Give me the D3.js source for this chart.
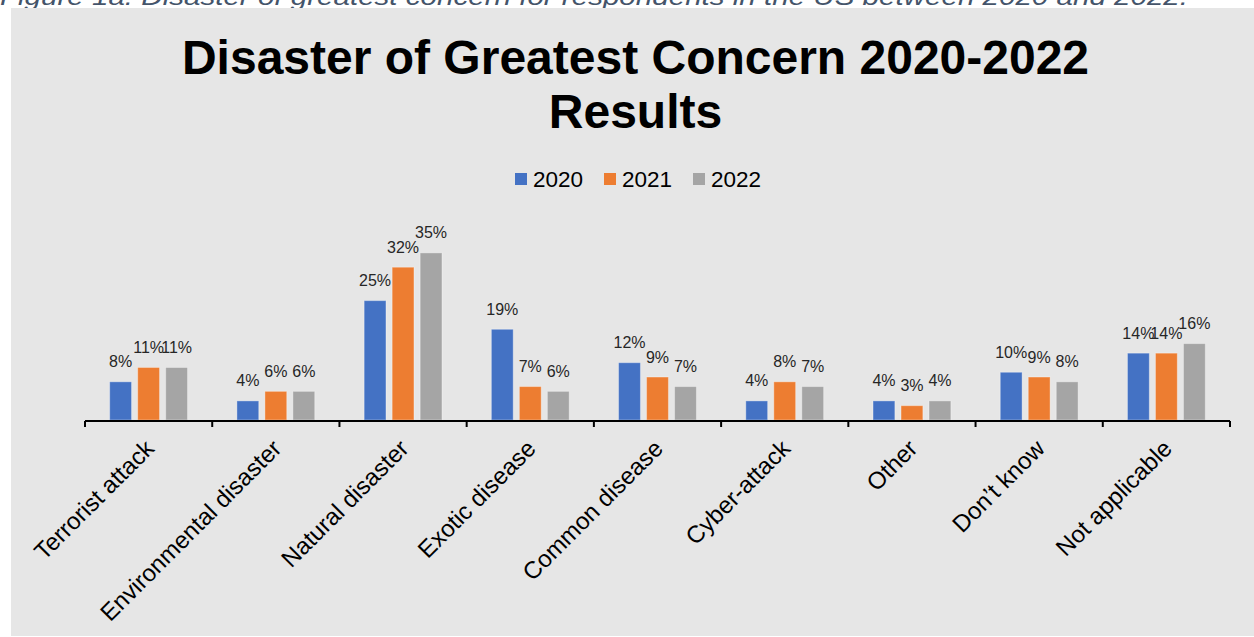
<!DOCTYPE html>
<html>
<head>
<meta charset="utf-8">
<script src="https://cdn.jsdelivr.net/npm/d3@7"></script>
<style>
  html, body { margin: 0; padding: 0; background: #ffffff; }
  svg { display: block; }
  text { font-family: "Liberation Sans", Arial, sans-serif; }
</style>
</head>
<body>
<svg id="chart" width="1254" height="637"></svg>
<script>
// Survey results: share of respondents naming each disaster as their greatest concern
const categories = ["Terrorist attack", "Environmental disaster", "Natural disaster", "Exotic disease",
  "Common disease", "Cyber-attack", "Other", "Don\u2019t know", "Not applicable"];
const years = ["2020", "2021", "2022"];
const values2020 = [8, 4, 25, 19, 12, 4, 4, 10, 14];
const values2021 = [11, 6, 32, 7, 9, 8, 3, 9, 14];
const values2022 = [11, 6, 35, 6, 7, 7, 4, 8, 16];
const seriesValues = [values2020, values2021, values2022];
const colors = ["#4472C4", "#ED7D31", "#A5A5A5"];

const titleLines = ["Disaster of Greatest Concern 2020-2022", "Results"];
const caption = "Figure 1a: Disaster of greatest concern for respondents in the US between 2020 and 2022.";

const svg = d3.select("#chart");
const W = 1254, H = 637;

// caption line above the chart panel
svg.append("text")
  .attr("x", 0).attr("y", 4.5)
  .attr("font-size", 24).attr("font-style", "italic")
  .attr("fill", "#44546A")
  .attr("textLength", 1188).attr("lengthAdjust", "spacingAndGlyphs")
  .text(caption);

// chart panel
svg.append("rect").attr("x", 11).attr("y", 8).attr("width", W - 11).attr("height", H - 9)
  .attr("fill", "#e6e6e6");

// title
svg.append("g").selectAll("text").data(titleLines).join("text")
  .attr("x", 635.5).attr("y", (d, i) => 74 + i * 54)
  .attr("text-anchor", "middle")
  .attr("font-size", 48).attr("font-weight", "bold").attr("fill", "#000")
  .text(d => d);

// legend
const legend = svg.append("g").selectAll("g").data(years).join("g")
  .attr("transform", (d, i) => `translate(${515 + i * 89},173)`);
legend.append("rect").attr("width", 12).attr("height", 12).attr("fill", (d, i) => colors[i]);
legend.append("text").attr("x", 18).attr("y", 14).attr("font-size", 22.5).attr("fill", "#000").text(d => d);

// scales
const x0 = d3.scaleBand().domain(categories).range([85, 1230]).paddingInner(0).paddingOuter(0);
const x1 = d3.scaleBand().domain(years).range([0, 84]).paddingInner(0.22).paddingOuter(0.11);
const y = d3.scaleLinear().domain([0, 40]).range([420, 229]);

const groupOffset = (x0.bandwidth() - 84) / 2;

const groups = svg.append("g").selectAll("g").data(categories).join("g")
  .attr("transform", d => `translate(${x0(d) + groupOffset},0)`);

const cells = groups.selectAll("g").data((d, ci) => years.map((yr, si) => ({ yr, si, v: seriesValues[si][ci] })))
  .join("g");

cells.append("rect")
  .attr("x", d => x1(d.yr))
  .attr("width", x1.bandwidth())
  .attr("y", d => y(d.v))
  .attr("height", d => y(0) - y(d.v))
  .attr("fill", d => colors[d.si])
  .attr("stroke", "rgba(255,255,255,0.35)")
  .attr("stroke-width", 1);

cells.append("text")
  .attr("x", d => x1(d.yr) + x1.bandwidth() / 2)
  .attr("y", d => y(d.v) - 14.5)
  .attr("text-anchor", "middle")
  .attr("font-size", 16).attr("fill", "#262626")
  .text(d => d.v + "%");

// category axis with boundary ticks
const axisG = svg.append("g");
const boundaries = d3.range(categories.length + 1).map(i => 85 + i * x0.step());
axisG.append("line").attr("x1", 85).attr("x2", 1230).attr("y1", 421).attr("y2", 421)
  .attr("stroke", "#000").attr("stroke-width", 2);
axisG.selectAll("line.tick").data(boundaries).join("line").attr("class", "tick")
  .attr("x1", d => d).attr("x2", d => d).attr("y1", 421).attr("y2", 427)
  .attr("stroke", "#000").attr("stroke-width", 2);

axisG.selectAll("text").data(categories).join("text")
  .attr("transform", d => `translate(${x0(d) + x0.bandwidth() / 2 + 7},${450}) rotate(-45)`)
  .attr("text-anchor", "end")
  .attr("font-size", 24).attr("fill", "#000")
  .text(d => d);
</script>
</body>
</html>
